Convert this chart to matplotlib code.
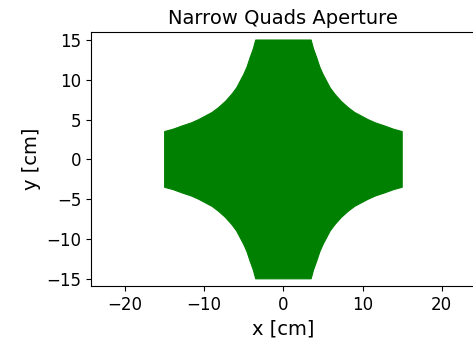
import numpy as np
import matplotlib
matplotlib.use("Agg")
import matplotlib.pyplot as plt

# Upper-right quadrant of the aperture outline (cm), from the top pole
# face down to the right pole face; the other quadrants are its mirror images.
edge_x = [3.5, 3.8, 4.2, 4.6, 5.0, 5.9, 6.5, 7.3, 8.2, 9.0, 10.7, 11.6, 12.8, 13.9, 15.0]
edge_y = [15.0, 13.9, 12.8, 11.6, 10.7, 9.0, 8.2, 7.3, 6.5, 5.9, 5.0, 4.6, 4.2, 3.8, 3.5]

title = "Narrow Quads Aperture"
xlabel = "x [cm]"
ylabel = "y [cm]"
xticks = [-20, -10, 0, 10, 20]
yticks = [-15, -10, -5, 0, 5, 10, 15]

qx = np.array(edge_x)
qy = np.array(edge_y)
# trace the outline clockwise through the four quadrants
outline_x = np.concatenate([qx, qx[::-1], -qx, -qx[::-1]])
outline_y = np.concatenate([qy, -qy[::-1], -qy, qy[::-1]])

fig = plt.figure(figsize=(4.73, 3.41), dpi=100)
ax = fig.add_axes([0.1924, 0.1613, 0.8136, 0.7447])
ax.fill(outline_x, outline_y, color="green", linewidth=0.8, edgecolor="green")

ax.set_xlim(-24.3, 24.3)
ax.set_ylim(-15.9, 16.0)
ax.set_xticks(xticks)
ax.set_yticks(yticks)
ax.tick_params(labelsize=12)
ax.set_title(title, fontsize=14)
ax.set_xlabel(xlabel, fontsize=14)
ax.set_ylabel(ylabel, fontsize=14)

fig.savefig("out.png", dpi=100)
